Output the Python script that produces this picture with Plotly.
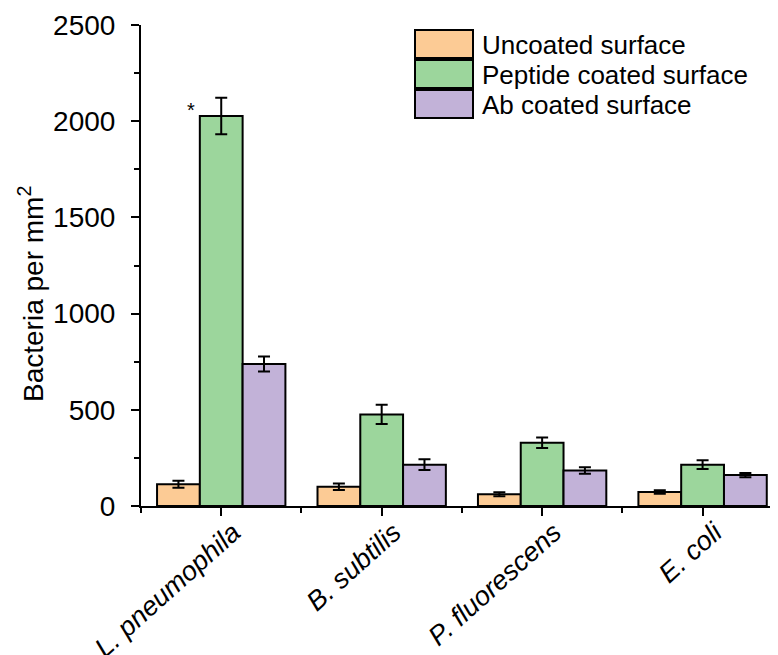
import plotly.graph_objects as go

categories = ["L. pneumophila", "B. subtilis", "P. fluorescens", "E. coli"]
series_names = ["Uncoated surface", "Peptide coated surface", "Ab coated surface"]
uncoated = [113, 100, 61, 73]
uncoated_err = [18, 17, 10, 9]
peptide = [2027, 476, 329, 215]
peptide_err = [95, 50, 27, 23]
ab = [738, 215, 185, 161]
ab_err = [39, 28, 17, 11]
y_ticks = [0, 500, 1000, 1500, 2000, 2500]
y_title = "Bacteria per mm<sup>2</sup>"

colors = ["#FCCB95", "#9CD69C", "#C2B2D8"]
values = [uncoated, peptide, ab]
errors = [uncoated_err, peptide_err, ab_err]

# page has an 8px body margin; size the figure so it fits the 778x655 window
OFF = 8
W, H = 778 - OFF, 655 - OFF
ML, MR, MT, MB = 141 - OFF, 0, 25 - OFF, 655 - 506
FONT = "Liberation Sans, Arial, sans-serif"

x_idx = list(range(len(categories)))

fig = go.Figure()
for name, vals, errs, col in zip(series_names, values, errors, colors):
    fig.add_trace(go.Bar(
        x=x_idx, y=vals, name=name,
        marker=dict(color=col, line=dict(color="black", width=2)),
        error_y=dict(type="data", array=errs, visible=True,
                     color="black", thickness=2, width=6),
        showlegend=False,
    ))

# helpers: page pixel -> paper coordinates
def px_x(px):
    return (px - OFF - ML) / (W - ML - MR)

def px_y(py):
    return (H - MB - (py - OFF)) / (H - MT - MB)

shapes = []
annotations = []
sw_top = [30, 60, 90]
for i, (name, col) in enumerate(zip(series_names, colors)):
    top = sw_top[i]
    bot = top + 28
    shapes.append(dict(type="rect", xref="paper", yref="paper",
                       x0=px_x(415), x1=px_x(473), y0=px_y(bot), y1=px_y(top),
                       fillcolor=col, line=dict(color="black", width=2)))
    annotations.append(dict(xref="paper", yref="paper", x=px_x(480),
                            y=px_y((top + bot) / 2 + 1), text=name, showarrow=False,
                            xanchor="left", yanchor="middle",
                            font=dict(family=FONT, size=26, color="black")))

# y-axis title (placed like the reference, slightly below the axis centre)
annotations.append(dict(xref="paper", yref="paper", x=px_x(31), y=px_y(294),
                        text=y_title, textangle=-90, showarrow=False,
                        xanchor="center", yanchor="middle",
                        font=dict(family=FONT, size=28, color="black")))

# significance star next to the peptide bar of L. pneumophila
annotations.append(dict(xref="x", yref="y", x=x_idx[0] - 0.19, y=peptide[0] + 30,
                        text="*", showarrow=False, xanchor="center", yanchor="middle",
                        font=dict(family=FONT, size=20, color="black")))

fig.update_layout(
    width=W, height=H,
    margin=dict(l=ML, r=MR, t=MT, b=MB, autoexpand=False),
    paper_bgcolor="white", plot_bgcolor="white",
    barmode="group", bargap=0.2, bargroupgap=0,
    shapes=shapes, annotations=annotations,
    font=dict(family=FONT, color="black"),
    xaxis=dict(
        range=[-0.5, 3.47], automargin=False,
        tickmode="array", tickvals=x_idx,
        ticktext=["<i>%s</i>" % c for c in categories],
        tickangle=-42, tickfont=dict(family=FONT, size=27, color="black"),
        ticklabelshift=12, ticklabelstandoff=-10,
        ticks="outside", ticklen=8, tickwidth=2, tickcolor="black",
        minor=dict(tickmode="array", tickvals=[-0.5, 0.5, 1.5, 2.5],
                   ticks="outside", ticklen=5, tickwidth=2, tickcolor="black"),
        showline=True, linecolor="black", linewidth=2,
        showgrid=False, zeroline=False,
    ),
    yaxis=dict(
        range=[0, 2500], automargin=False,
        tickmode="array", tickvals=y_ticks,
        tickfont=dict(family=FONT, size=28, color="black"),
        ticklabelstandoff=10,
        ticks="outside", ticklen=8, tickwidth=2, tickcolor="black",
        minor=dict(tickmode="linear", tick0=0, dtick=250,
                   ticks="outside", ticklen=5, tickwidth=2, tickcolor="black"),
        showline=True, linecolor="black", linewidth=2,
        showgrid=False, zeroline=False,
    ),
)

fig.write_html("out.html")
